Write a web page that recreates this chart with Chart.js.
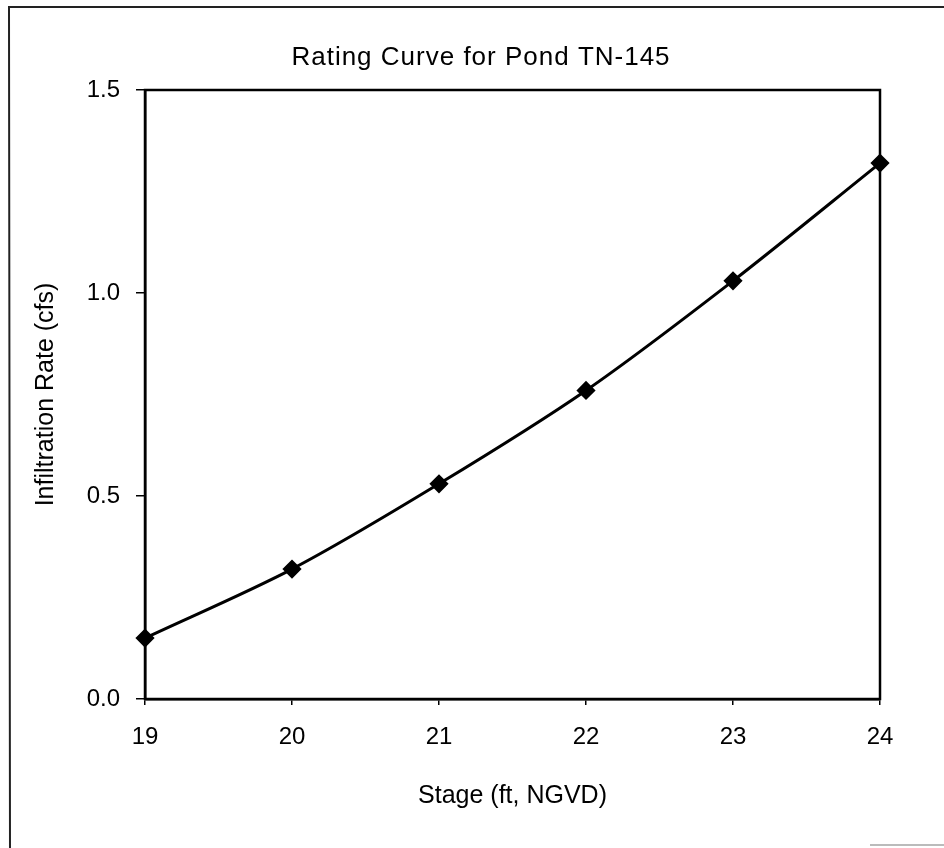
<!DOCTYPE html>
<html>
<head>
<meta charset="utf-8">
<script src="https://cdn.jsdelivr.net/npm/chart.js@4/dist/chart.umd.min.js"></script>
<style>
  html, body { margin: 0; padding: 0; background: #fff; }
  #wrap { width: 944px; height: 848px; position: relative; }
</style>
</head>
<body>
<div id="wrap"><canvas id="c" width="944" height="848"></canvas></div>
<script>
// Stage (ft, NGVD) and the measured infiltration rate (cfs) at each stage
const stages = [19, 20, 21, 22, 23, 24];
const infiltration = [0.15, 0.32, 0.53, 0.76, 1.03, 1.32];
const yTicks = [0.0, 0.5, 1.0, 1.5];

const chartTitle = 'Rating Curve for Pond TN-145';
const xTitle = 'Stage (ft, NGVD)';
const yTitle = 'Infiltration Rate (cfs)';

const FONT = "'Liberation Sans', Arial, sans-serif";

// page frame, closed box round the plot area, and the chart heading
const framePlugin = {
  id: 'frame',
  beforeDraw(chart) {
    const ctx = chart.ctx;
    ctx.save();
    ctx.fillStyle = '#fff';
    ctx.fillRect(0, 0, chart.width, chart.height);
    ctx.strokeStyle = '#222';
    ctx.lineWidth = 2;
    ctx.beginPath();
    ctx.moveTo(10, 848);
    ctx.lineTo(9, 7);
    ctx.lineTo(944, 7);
    ctx.stroke();
    ctx.strokeStyle = '#bbb';
    ctx.beginPath();
    ctx.moveTo(870, 845);
    ctx.lineTo(944, 845);
    ctx.stroke();
    ctx.restore();
  },
  afterDatasetsDraw(chart) {
    const a = chart.chartArea;
    const ctx = chart.ctx;
    ctx.save();
    ctx.strokeStyle = '#000';
    ctx.lineWidth = 2.5;
    ctx.strokeRect(a.left, a.top, a.right - a.left, a.bottom - a.top);
    ctx.restore();
  },
  afterDraw(chart) {
    const ctx = chart.ctx;
    ctx.save();
    ctx.font = '26px ' + FONT;
    if ('letterSpacing' in ctx) ctx.letterSpacing = '1px';
    ctx.fillStyle = '#000';
    ctx.textAlign = 'center';
    ctx.textBaseline = 'middle';
    ctx.fillText(chartTitle, 481, 58);
    ctx.restore();
  }
};

new Chart(document.getElementById('c'), {
  type: 'line',
  data: {
    datasets: [{
      data: stages.map((s, i) => ({ x: s, y: infiltration[i] })),
      borderColor: '#000',
      backgroundColor: '#000',
      borderWidth: 3,
      tension: 0.3,
      pointStyle: 'rectRot',
      pointRadius: 7.5,
      pointBackgroundColor: '#000',
      pointBorderColor: '#000',
      clip: false
    }]
  },
  plugins: [framePlugin],
  options: {
    responsive: false,
    animation: false,
    events: [],
    layout: { padding: { left: 0, right: 64, top: 90, bottom: 0 } },
    plugins: {
      legend: { display: false },
      tooltip: { enabled: false },
      title: { display: false }
    },
    scales: {
      x: {
        type: 'linear',
        min: 19,
        max: 24,
        afterBuildTicks(scale) { scale.ticks = stages.map(v => ({ value: v })); },
        afterFit(scale) { scale.height = 149; },
        ticks: {
          color: '#000',
          font: { family: FONT, size: 24 },
          padding: 18,
          maxRotation: 0,
          callback: v => String(v)
        },
        grid: {
          drawOnChartArea: false,
          drawTicks: true,
          tickLength: 6,
          tickColor: '#000',
          lineWidth: 1.5
        },
        border: { display: true, color: '#000', width: 2.5 },
        title: {
          display: true,
          text: xTitle,
          color: '#000',
          font: { family: FONT, size: 25 },
          padding: { top: 0, bottom: 37 }
        }
      },
      y: {
        type: 'linear',
        min: 0,
        max: 1.5,
        afterBuildTicks(scale) { scale.ticks = yTicks.map(v => ({ value: v })); },
        afterFit(scale) { scale.width = 145; },
        ticks: {
          color: '#000',
          font: { family: FONT, size: 24 },
          padding: 16,
          callback: v => Number(v).toFixed(1)
        },
        grid: {
          drawOnChartArea: false,
          drawTicks: true,
          tickLength: 9,
          tickColor: '#000',
          lineWidth: 1.5
        },
        border: { display: true, color: '#000', width: 2.5 },
        title: {
          display: true,
          text: yTitle,
          color: '#000',
          font: { family: FONT, size: 25 },
          padding: { top: 31, bottom: 0 }
        }
      }
    }
  }
});
</script>
</body>
</html>
